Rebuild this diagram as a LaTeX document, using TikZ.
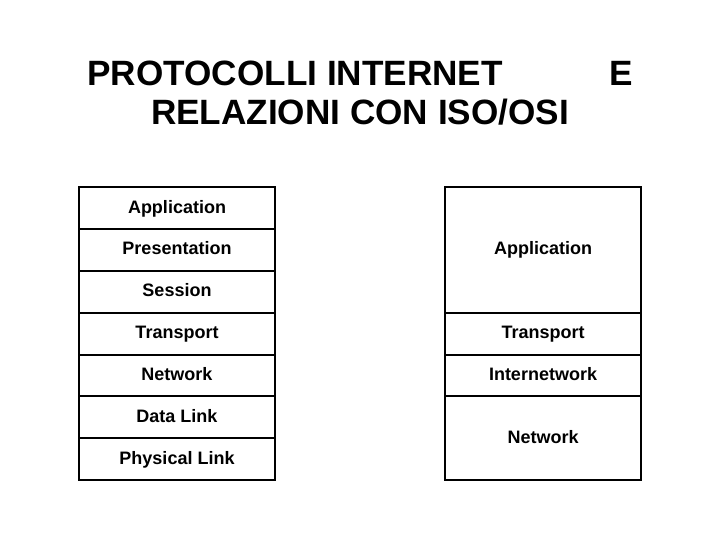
\documentclass[tikz,border=0pt]{standalone}
\usepackage{fontspec}
\setmainfont{Liberation Sans}
\usetikzlibrary{positioning}
\tikzstyle{layer}=[draw, rectangle, line width=1.4pt, minimum width=4.9cm, minimum height=1.047cm, inner sep=0pt, outer sep=0pt, text height=0.94em, text depth=0.21em, font=\bfseries\fontsize{12.8}{15}\selectfont]
\tikzstyle{title}=[inner sep=0pt, font=\bfseries\fontsize{25}{30}\selectfont]

\begin{document}
\begin{tikzpicture}[x=0.025cm, y=-0.025cm]
	\useasboundingbox (0,0) rectangle (720,540);
	\node[title, anchor=base] (T1) at (360,85) {\makebox[13.625cm]{PROTOCOLLI INTERNET\hfill E}};
	\node[title, anchor=base] (T2) at (360,124) {RELAZIONI CON ISO/OSI};
	% pila ISO/OSI
	\node[layer, anchor=north] (Aosi) at (177,187) {Application};
	\node[layer, below=0pt of Aosi] (Posi) {Presentation};
	\node[layer, below=0pt of Posi] (Sosi) {Session};
	\node[layer, below=0pt of Sosi] (Tosi) {Transport};
	\node[layer, below=0pt of Tosi] (Nosi) {Network};
	\node[layer, below=0pt of Nosi] (Dosi) {Data Link};
	\node[layer, below=0pt of Dosi] (Fosi) {Physical Link};
	% pila Internet
	\node[layer, anchor=north, minimum height=3.141cm] (Ainet) at (543,187) {Application};
	\node[layer, below=0pt of Ainet] (Tinet) {Transport};
	\node[layer, below=0pt of Tinet] (Iinet) {Internetwork};
	\node[layer, below=0pt of Iinet, minimum height=2.094cm] (Ninet) {Network};
\end{tikzpicture}
\end{document}
